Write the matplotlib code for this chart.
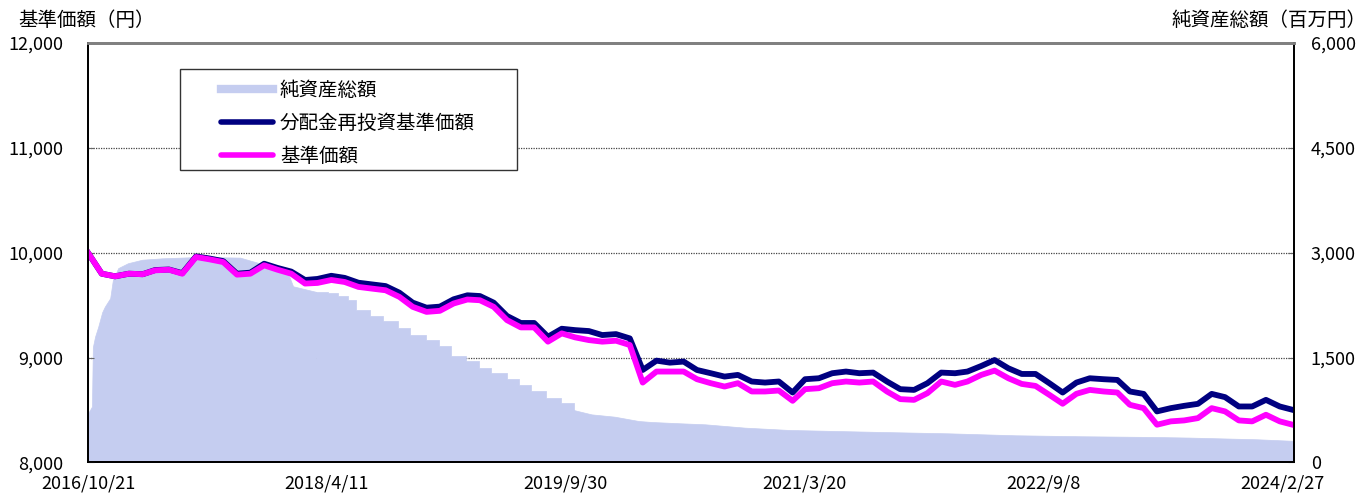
import pandas as pd
import matplotlib
matplotlib.use("Agg")
from matplotlib import pyplot as plt
from matplotlib.lines import Line2D
from matplotlib.patches import Rectangle

plt.rcParams["font.family"] = ["Noto Sans CJK JP", "DejaVu Sans"]

start = pd.Timestamp("2016-10-21")

# monthly readings (one per month from launch)
nav_reinvested = [
    10000, 9800, 9775, 9800, 9795, 9835, 9840, 9805, 9965, 9945,
    9920, 9800, 9810, 9895, 9855, 9820, 9740, 9750, 9780, 9760,
    9714, 9698, 9682, 9619, 9524, 9476, 9486, 9556, 9594, 9587,
    9524, 9397, 9330, 9330, 9199, 9275, 9262, 9253, 9215, 9224,
    9183, 8882, 8971, 8952, 8962, 8882, 8851, 8819, 8835, 8772,
    8762, 8772, 8667, 8794, 8803, 8851, 8867, 8851, 8857, 8772,
    8699, 8692, 8756, 8857, 8851, 8867, 8920, 8977, 8898, 8844,
    8844, 8756, 8667, 8762, 8803, 8794, 8787, 8677, 8654, 8487,
    8518, 8540, 8559, 8654, 8623, 8534, 8534, 8597, 8534, 8502,
]
nav = [
    10000, 9800, 9775, 9800, 9795, 9832, 9838, 9800, 9959, 9937,
    9911, 9791, 9800, 9880, 9838, 9800, 9706, 9712, 9740, 9721,
    9674, 9658, 9642, 9579, 9484, 9436, 9446, 9516, 9554, 9547,
    9484, 9357, 9288, 9288, 9152, 9231, 9193, 9167, 9152, 9161,
    9120, 8762, 8867, 8867, 8867, 8794, 8756, 8724, 8756, 8677,
    8677, 8686, 8588, 8699, 8708, 8756, 8772, 8762, 8772, 8677,
    8604, 8597, 8661, 8772, 8740, 8772, 8835, 8876, 8803, 8749,
    8730, 8645, 8560, 8655, 8692, 8677, 8667, 8550, 8518, 8360,
    8392, 8401, 8423, 8518, 8487, 8401, 8392, 8455, 8392, 8360,
]
nav_dates = pd.date_range(start, periods=len(nav), freq=pd.DateOffset(months=1))

# net assets (million yen), days since launch
aum_days = [
    0, 9, 11, 16, 23, 32, 38, 50, 56, 68,
    90, 122, 167, 252, 342, 369, 414, 450, 461, 513,
    540, 563, 585, 603, 635, 664, 698, 725, 759, 788,
    817, 849, 878, 907, 941, 968, 997, 1029, 1063, 1092,
    1132, 1184, 1238, 1267, 1333, 1387, 1432, 1477, 1576, 1785,
    1934, 2085, 2233, 2391, 2476, 2627, 2715,
]
aum = [
    700, 800, 1650, 1800, 1940, 2150, 2230, 2350, 2610, 2780,
    2850, 2900, 2920, 2940, 2930, 2880, 2800, 2700, 2520, 2440,
    2421, 2374, 2326, 2184, 2089, 2018, 1923, 1828, 1757, 1662,
    1520, 1449, 1354, 1283, 1188, 1102, 1022, 927, 846, 750,
    688, 655, 593, 579, 560, 546, 522, 498, 465, 436,
    417, 389, 375, 365, 356, 332, 308,
]
# monthly redemption steps between these days
step_from, step_to = 513, 1092

tick_dates = ["2016-10-21", "2018-04-11", "2019-09-30", "2021-03-20", "2022-09-08", "2024-02-27"]
tick_labels = ["2016/10/21", "2018/4/11", "2019/9/30", "2021/3/20", "2022/9/8", "2024/2/27"]
left_ticks = [8000, 9000, 10000, 11000, 12000]
right_ticks = [0, 1500, 3000, 4500, 6000]

area_color = "#C5CDF0"
navy = "#000080"
magenta = "#FF00FF"

fig = plt.figure(figsize=(13.68, 4.95), dpi=100)
ax_aum = fig.add_axes([0.0643, 0.0657, 0.8816, 0.8475])
ax_nav = ax_aum.twinx()

aum_s = pd.Series(aum, index=pd.Index(aum_days))
dates = lambda s: start + pd.to_timedelta(s.index, unit="D")
early = aum_s[aum_s.index <= step_from]
mid = aum_s[(aum_s.index >= step_from) & (aum_s.index <= step_to)]
late = aum_s[aum_s.index >= step_to]
ax_aum.fill_between(dates(early), early.values, 0, color=area_color, lw=0.5, ec=area_color, zorder=2)
ax_aum.fill_between(dates(mid), mid.values, 0, step="post", color=area_color, lw=0.5, ec=area_color, zorder=2)
ax_aum.fill_between(dates(late), late.values, 0, color=area_color, lw=0.5, ec=area_color, zorder=2)
ax_aum.set_ylim(0, 6000)
ax_aum.set_yticks(right_ticks)
ax_aum.set_yticklabels([f"{v:,}" for v in right_ticks])
ax_aum.yaxis.tick_right()
ax_aum.grid(axis="y", color="#444444", lw=0.9, ls=(0, (1, 1)), zorder=1)
ax_aum.set_axisbelow(True)

ax_nav.plot(nav_dates, nav_reinvested, color=navy, lw=4.2, solid_joinstyle="round")
ax_nav.plot(nav_dates, nav, color=magenta, lw=4.2, solid_joinstyle="round")
ax_nav.set_ylim(8000, 12000)
ax_nav.set_yticks(left_ticks)
ax_nav.set_yticklabels([f"{v:,}" for v in left_ticks])
ax_nav.yaxis.tick_left()

ax_nav.set_xlim(start, pd.Timestamp("2024-03-24"))
ax_nav.set_xticks(pd.to_datetime(tick_dates))
ax_nav.set_xticklabels(tick_labels)

for a in (ax_aum, ax_nav):
    for side in ("left", "right", "bottom"):
        a.spines[side].set_color("black")
        a.spines[side].set_linewidth(1.3)
    a.spines["top"].set_color("#808080")
    a.spines["top"].set_linewidth(2)
ax_nav.tick_params(axis="y", direction="in", length=4, labelsize=13, pad=18, color="#666666")
ax_aum.tick_params(axis="y", direction="in", length=4, labelsize=13, pad=12, color="#666666")
ax_aum.tick_params(axis="x", direction="in", length=6, labelsize=13, pad=9, color="#666666")
ax_nav.tick_params(axis="x", direction="in", length=6, labelsize=13, pad=9, color="#666666")

fig.text(18 / 1368, 1 - 21 / 495, "基準価額（円）", fontsize=14, ha="left", va="center")
fig.text(1367 / 1368, 1 - 21 / 495, "純資産総額（百万円）", fontsize=14, ha="right", va="center")

# legend box
ax_nav.add_patch(Rectangle((0.0763, 0.697), 0.2794, 0.241, transform=ax_nav.transAxes,
                           facecolor="white", edgecolor="#333333", lw=1, zorder=4))
handles = [
    Line2D([], [], color=area_color, lw=6),
    Line2D([], [], color=navy, lw=4, solid_capstyle="round"),
    Line2D([], [], color=magenta, lw=4, solid_capstyle="round"),
]
labels = ["純資産総額", "分配金再投資基準価額", "基準価額"]
leg = ax_nav.legend(handles, labels, loc="upper left", bbox_to_anchor=(0.110, 0.911),
                    frameon=False, fontsize=14, handlelength=2.7, handletextpad=0.35,
                    labelspacing=0.6, borderpad=0, borderaxespad=0)
leg.set_zorder(5)

fig.savefig("out.png", dpi=100)
